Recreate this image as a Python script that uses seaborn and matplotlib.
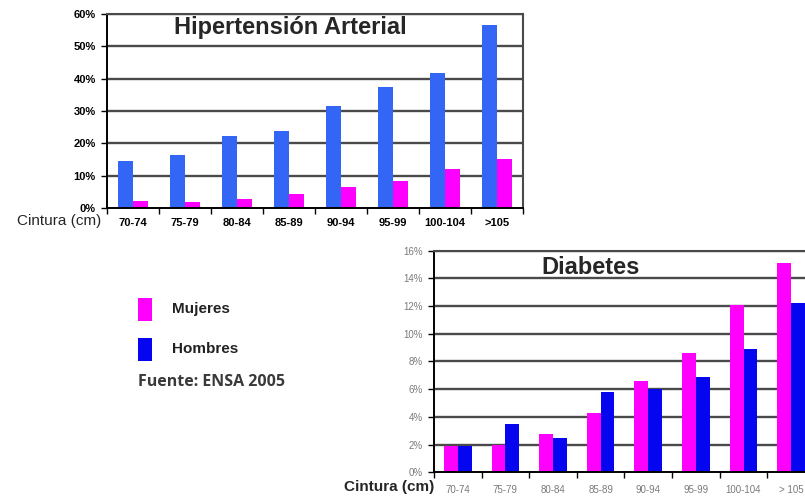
import matplotlib
matplotlib.use("Agg")
import matplotlib.pyplot as plt
from matplotlib.patches import Rectangle
from matplotlib.ticker import FixedLocator
import numpy as np
import pandas as pd
import seaborn as sns

# Waist-circumference groups (cm)
cintura_hta = ["70-74", "75-79", "80-84", "85-89", "90-94", "95-99", "100-104", ">105"]
cintura_dm = ["70-74", "75-79", "80-84", "85-89", "90-94", "95-99", "100-104", "> 105"]

# Hipertensión arterial prevalence (%)
hta_hombres = [14.5, 16.4, 22.4, 23.9, 31.6, 37.4, 41.9, 56.5]
hta_mujeres = [2.2, 2.0, 2.9, 4.3, 6.4, 8.5, 12.0, 15.2]

# Diabetes prevalence (%)
dm_mujeres = [1.9, 2.0, 2.8, 4.3, 6.6, 8.6, 12.1, 15.1]
dm_hombres = [1.9, 3.5, 2.5, 5.8, 6.0, 6.9, 8.9, 12.2]

hta_yticks = [0, 10, 20, 30, 40, 50, 60]
dm_yticks = [0, 2, 4, 6, 8, 10, 12, 14, 16]

MAGENTA = "#FF00FF"
BLUE_HTA = "#3366F5"
BLUE_DM = "#0505F0"
GRID = "#4a4a4a"

sns.set_theme(style="white")
plt.rcParams["font.family"] = ["Liberation Sans", "DejaVu Sans"]

hta = pd.DataFrame({
    "Cintura": cintura_hta * 2,
    "Sexo": ["Hombres"] * 8 + ["Mujeres"] * 8,
    "Pct": hta_hombres + hta_mujeres,
})
dm = pd.DataFrame({
    "Cintura": cintura_dm * 2,
    "Sexo": ["Mujeres"] * 8 + ["Hombres"] * 8,
    "Pct": dm_mujeres + dm_hombres,
})

fig = plt.figure(figsize=(8.05, 4.96), dpi=100)
fig.patch.set_facecolor("white")

ax1 = fig.add_axes([0.1329, 0.5806, 0.5168, 0.3911])
ax2 = fig.add_axes([0.5391, 0.0478, 0.4733, 0.4468])


def style_axes(ax, yticks, ylabels, tick_color, tick_weight, tick_size, xpad):
    ax.set_ylim(yticks[0], yticks[-1])
    ax.set_xlim(-0.5, 7.5)
    ax.set_yticks(yticks)
    ax.set_yticklabels(ylabels, fontsize=tick_size, fontweight=tick_weight,
                       color=tick_color)
    for lab in ax.get_xticklabels():
        lab.set_fontsize(tick_size)
        lab.set_fontweight(tick_weight)
        lab.set_color(tick_color)
    ax.set_xlabel("")
    ax.set_ylabel("")
    ax.grid(False)
    for y in yticks[1:]:
        ax.axhline(y, color=GRID, lw=1.7, zorder=0)
    ax.spines["left"].set_color("black")
    ax.spines["bottom"].set_color("black")
    ax.spines["left"].set_linewidth(1.4)
    ax.spines["bottom"].set_linewidth(1.4)
    for s in ("top", "right"):
        ax.spines[s].set_color(GRID)
        ax.spines[s].set_linewidth(1.5)
    ax.tick_params(axis="x", which="major", length=0, pad=xpad)
    ax.xaxis.set_minor_locator(FixedLocator(np.arange(-0.5, 8.0, 1.0)))
    ax.tick_params(axis="x", which="minor", bottom=True, length=4, width=1,
                   color="black", direction="out")
    ax.tick_params(axis="y", which="major", left=True, length=4, width=1,
                   color="black", direction="out", pad=4)


# Hipertensión arterial
sns.barplot(data=hta, x="Cintura", y="Pct", hue="Sexo",
            hue_order=["Hombres", "Mujeres"],
            palette={"Hombres": BLUE_HTA, "Mujeres": MAGENTA},
            width=0.58, gap=0, saturation=1, legend=False, ax=ax1, zorder=2,
            linewidth=0, edgecolor="none")
style_axes(ax1, hta_yticks, [f"{v}%" for v in hta_yticks], "black", "bold", 8, 7)
ax1.text(0.44, 0.93, "Hipertensión Arterial", transform=ax1.transAxes,
         ha="center", va="center", fontsize=17, fontweight="bold")
fig.text(59 / 805, 1 - 221 / 496, "Cintura (cm)", ha="center", va="center",
         fontsize=11)

# Diabetes
sns.barplot(data=dm, x="Cintura", y="Pct", hue="Sexo",
            hue_order=["Mujeres", "Hombres"],
            palette={"Mujeres": MAGENTA, "Hombres": BLUE_DM},
            width=0.58, gap=0, saturation=1, legend=False, ax=ax2, zorder=2,
            linewidth=0, edgecolor="none")
style_axes(ax2, dm_yticks, [f"{v}%" for v in dm_yticks], "#7a7a7a", "normal", 7, 9)
ax2.text(0.41, 0.925, "Diabetes", transform=ax2.transAxes,
         ha="center", va="center", fontsize=17, fontweight="bold")
fig.text(389 / 805, 1 - 487 / 496, "Cintura (cm)", ha="center", va="center",
         fontsize=11, fontweight="bold")

# Legend and source
for ytop, color, label in [(298, MAGENTA, "Mujeres"), (338, BLUE_DM, "Hombres")]:
    fig.add_artist(Rectangle((138 / 805, 1 - (ytop + 23) / 496), 14 / 805, 23 / 496,
                             transform=fig.transFigure, facecolor=color,
                             edgecolor="none"))
    fig.text(172 / 805, 1 - (ytop + 11) / 496, label, ha="left", va="center",
             fontsize=11, fontweight="bold", color="#222222")

fig.text(138 / 805, 1 - 382 / 496, "Fuente: ENSA 2005", ha="left", va="center",
         fontsize=11.5, fontweight="bold", color="#3a3a3a",
         family=["Open Sans", "DejaVu Sans"])

fig.savefig("out.png", dpi=100, facecolor="white")
